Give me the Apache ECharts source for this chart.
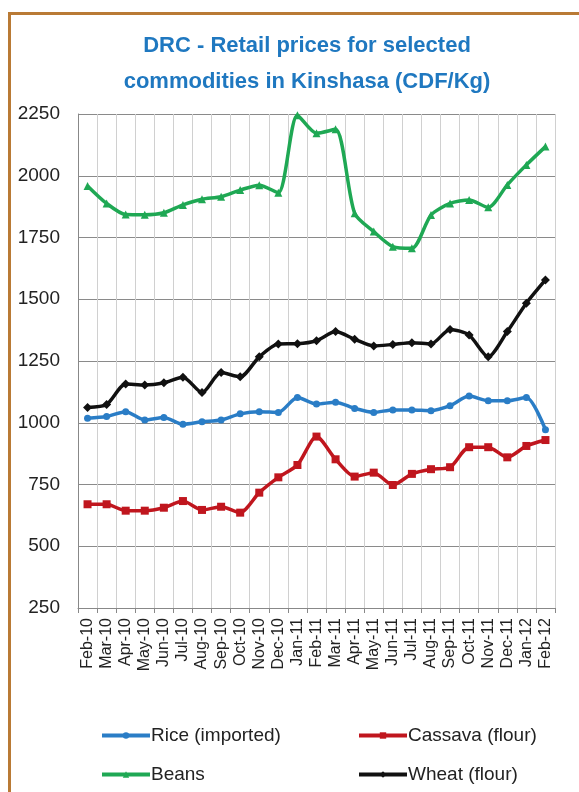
<!DOCTYPE html>
<html>
<head>
<meta charset="utf-8">
<script src="https://cdn.jsdelivr.net/npm/echarts@6/dist/echarts.min.js"></script>
<style>
  html, body { margin: 0; padding: 0; background: #fff; }
  #frame { position: absolute; left: 8px; top: 12px; width: 600px; height: 800px;
           border-left: 3px solid #B97A35; border-top: 3px solid #B97A35; }
  #main { position: absolute; left: 0; top: 0; width: 579px; height: 792px; }
</style>
</head>
<body>
<div id="frame"></div>
<div id="main"></div>
<script>
// 月份
var months = ['Feb-10','Mar-10','Apr-10','May-10','Jun-10','Jul-10','Aug-10','Sep-10','Oct-10','Nov-10','Dec-10','Jan-11',
  'Feb-11','Mar-11','Apr-11','May-11','Jun-11','Jul-11','Aug-11','Sep-11','Oct-11','Nov-11','Dec-11','Jan-12','Feb-12'];
var rice    = [1018,1025,1045,1011,1021,994,1004,1011,1036,1045,1042,1102,1076,1083,1058,1042,1052,1052,1049,1069,1108,1089,1089,1102,972];
var cassava = [670,670,644,644,656,683,647,660,636,717,779,829,944,852,782,798,748,793,812,820,901,901,860,906,930];
var beans   = [1959,1888,1843,1842,1850,1882,1905,1915,1942,1962,1931,2245,2172,2188,1848,1774,1713,1706,1841,1888,1902,1872,1963,2044,2118];
var wheat   = [1062,1074,1157,1153,1162,1184,1122,1203,1186,1267,1319,1320,1332,1369,1338,1311,1317,1324,1319,1378,1355,1267,1369,1484,1578];

var font = 'Liberation Sans';
function line(name, data, color, symbol, size) {
    return {
        name: name, type: 'line', data: data, smooth: 0.25,
        symbol: symbol, symbolSize: size,
        lineStyle: {color: color, width: 3.5},
        itemStyle: {color: color},
        z: 3
    };
}
var legendBase = {
    orient: 'vertical', itemGap: 20, itemWidth: 48, itemHeight: 8,
    lineStyle: {width: 4},
    textStyle: {fontFamily: font, fontSize: 19, color: '#222', padding: [0, 0, 0, -4]}
};
var chart = echarts.init(document.getElementById('main'));
chart.setOption({
    animation: false,
    title: {
        text: 'DRC - Retail prices for selected\ncommodities in Kinshasa (CDF/Kg)',
        left: 302, top: 23, textAlign: 'center',
        textStyle: {color: '#1F78C0', fontFamily: font, fontWeight: 'bold', fontSize: 22, lineHeight: 36}
    },
    legend: [
        Object.assign({left: 95, top: 721, data: ['Rice (imported)', 'Beans']}, legendBase),
        Object.assign({left: 352, top: 721, data: ['Cassava (flour)', 'Wheat (flour)']}, legendBase)
    ],
    grid: {left: 78, right: 24, top: 114, bottom: 184},
    xAxis: {
        type: 'category', data: months, boundaryGap: true,
        axisLine: {lineStyle: {color: '#888'}},
        axisTick: {show: true, interval: 0, length: 5, lineStyle: {color: '#888'}},
        axisLabel: {interval: 0, rotate: 90, margin: 10, fontFamily: font, fontSize: 16, color: '#222'},
        splitLine: {show: true, interval: 0, lineStyle: {color: '#d0d0d0'}}
    },
    yAxis: {
        type: 'value', min: 250, max: 2250, interval: 250,
        axisLine: {show: true, lineStyle: {color: '#888'}},
        axisTick: {show: false},
        axisLabel: {margin: 18, fontFamily: font, fontSize: 19, color: '#222',
            formatter: function (v) { return String(v); }},
        splitLine: {lineStyle: {color: '#8a8a8a'}}
    },
    series: [
        line('Rice (imported)', rice, '#2A7DC6', 'circle', 7),
        line('Cassava (flour)', cassava, '#C0161E', 'rect', 8),
        line('Beans', beans, '#1FA854', 'triangle', 8),
        line('Wheat (flour)', wheat, '#111', 'diamond', 9)
    ]
});
</script>
</body>
</html>
